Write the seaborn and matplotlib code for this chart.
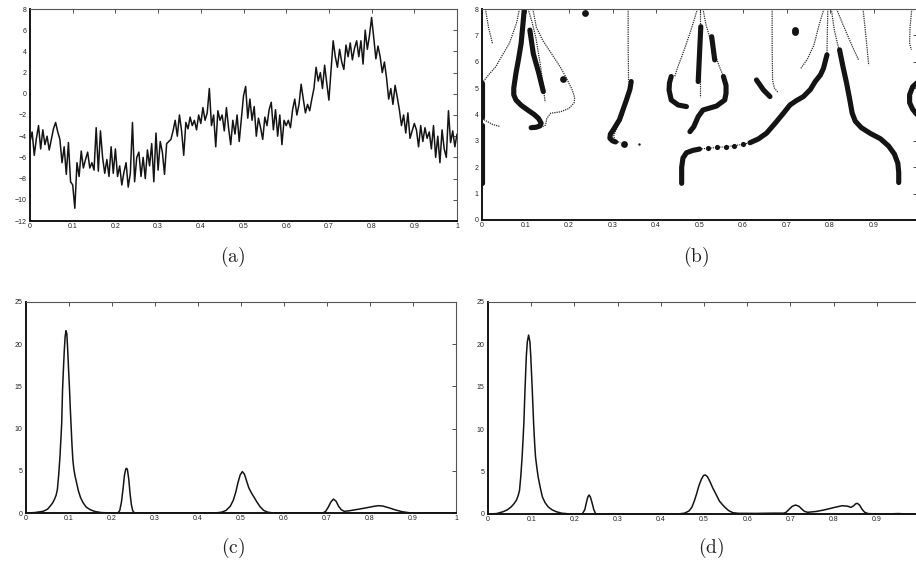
import numpy as np
import matplotlib
matplotlib.use("Agg")
import matplotlib.pyplot as plt
import seaborn as sns

# ---------------- (a) noisy signal, sampled every 0.005 ----------------
signal_y = [
    -4.5, -3.6, -5.8, -4.2, -3.0, -5.2, -3.4, -4.8, -4.0, -5.3,
    -4.3, -3.3, -2.7, -3.6, -4.3, -6.5, -5.0, -7.6, -4.6, -8.3,
    -8.6, -10.8, -6.5, -7.8, -5.4, -7.0, -6.2, -5.5, -7.0, -6.5,
    -7.2, -3.2, -7.3, -3.5, -6.0, -7.5, -6.2, -7.8, -5.0, -7.5,
    -5.2, -7.8, -6.8, -8.6, -7.4, -6.5, -8.8, -7.5, -2.7, -8.3,
    -6.0, -5.5, -7.8, -6.0, -8.0, -5.3, -6.8, -4.7, -8.3, -3.7,
    -7.2, -4.5, -5.5, -7.6, -4.7, -4.5, -4.3, -3.5, -2.5, -4.0,
    -2.0, -3.5, -5.8, -2.7, -3.3, -2.2, -3.0, -2.5, -3.4, -2.0,
    -2.8, -1.3, -2.5, -1.8, 0.5, -3.0, -2.0, -5.0, -1.6, -2.5,
    -2.0, -3.5, -1.3, -3.2, -4.8, -2.5, -3.8, -2.0, -4.5, -2.3,
    -0.2, 0.7, -2.3, -0.5, -2.5, -1.2, -4.0, -2.3, -3.2, -4.3,
    -2.2, -3.0, -1.5, -0.8, -3.4, -1.5, -4.0, -2.0, -4.8, -2.5,
    -3.0, -2.5, -3.2, -1.5, -0.5, -2.0, -1.0, 0.9, -0.5, -1.8,
    -1.0, -1.6, -0.5, 0.5, 2.5, 1.2, 2.0, 0.5, 2.7, 1.0,
    -0.6, 2.2, 5.0, 3.5, 2.5, 4.2, 3.0, 2.3, 4.6, 3.5,
    4.8, 3.2, 4.3, 5.0, 3.5, 5.0, 2.8, 6.0, 4.2, 5.5,
    7.2, 5.3, 3.3, 4.5, 3.5, 2.0, 3.0, 1.5, -0.5, 0.5,
    -1.0, 0.8, -0.3, -1.5, -3.0, -2.0, -3.7, -1.8, -4.2, -3.5,
    -2.8, -3.4, -5.0, -3.0, -4.5, -3.2, -4.2, -3.6, -5.2, -3.0,
    -6.0, -4.0, -6.5, -3.4, -5.2, -6.0, -1.6, -4.6, -3.5, -5.0,
    -3.8,
]
signal_x = np.linspace(0.0, 1.0, len(signal_y))

# ---------------- (b) modulus-maxima ridges ----------------
# strong ridges (x positions, scale values)
ridge_edge_low = ([0.0, 0.0], [1.4, 3.6])
ridge_edge_up = ([0.0, 0.0], [3.9, 5.2])
ridge_01_main = ([0.097, 0.094, 0.090, 0.084, 0.078, 0.073, 0.073, 0.078, 0.090,
                  0.105, 0.120, 0.130, 0.136, 0.133, 0.125, 0.113],
                 [7.96, 7.4, 6.7, 6.1, 5.56, 5.0, 4.75, 4.55, 4.35,
                  4.17, 4.0, 3.85, 3.67, 3.57, 3.52, 3.5])
ridge_01_side = ([0.110, 0.118, 0.130, 0.141], [7.2, 6.3, 5.6, 4.87])
ridge_03 = ([0.343, 0.340, 0.332, 0.316, 0.303, 0.295, 0.294, 0.300, 0.307],
            [5.25, 4.95, 4.55, 3.8, 3.45, 3.25, 3.1, 3.0, 2.96])
ridge_05_left = ([0.435, 0.431, 0.430, 0.435, 0.451, 0.470],
                 [5.44, 5.2, 4.93, 4.55, 4.36, 4.3])
ridge_05_mid = ([0.503, 0.497], [7.33, 5.25])
ridge_05_r1 = ([0.528, 0.535], [6.95, 6.07])
ridge_05_right = ([0.555, 0.561, 0.561, 0.558, 0.539, 0.508, 0.497, 0.487, 0.478],
                  [5.44, 5.1, 4.8, 4.55, 4.32, 4.17, 3.92, 3.54, 3.35])
ridge_065 = ([0.631, 0.647, 0.662], [5.31, 4.93, 4.68])
ridge_big_left = ([0.459, 0.459, 0.462, 0.470, 0.485, 0.500],
                  [1.39, 2.0, 2.35, 2.55, 2.64, 2.69])
ridge_big_right = ([0.616, 0.635, 0.654, 0.673, 0.693, 0.708, 0.722, 0.739,
                    0.755, 0.766, 0.778, 0.785, 0.793],
                   [2.93, 3.07, 3.29, 3.65, 4.05, 4.36, 4.52, 4.68,
                    4.95, 5.25, 5.5, 5.75, 6.26])
ridge_08_right = ([0.822, 0.830, 0.838, 0.845, 0.851, 0.858, 0.872, 0.893,
                   0.916, 0.935, 0.948, 0.956, 0.958, 0.958],
                  [6.45, 5.8, 5.2, 4.6, 4.05, 3.75, 3.5, 3.28,
                   3.08, 2.8, 2.5, 2.15, 1.8, 1.42])
ridge_edge_right = ([1.0, 0.990, 0.983, 0.983, 0.990, 1.0],
                    [5.2, 5.05, 4.75, 4.45, 4.2, 4.0])
strong_ridges = [ridge_edge_low, ridge_edge_up, ridge_01_main, ridge_01_side,
                 ridge_03, ridge_05_left, ridge_05_mid, ridge_05_r1,
                 ridge_05_right, ridge_065, ridge_big_left, ridge_big_right,
                 ridge_08_right, ridge_edge_right]

# sparse maxima linking the long ridge
sparse_x = [0.52, 0.54, 0.56, 0.58, 0.60]
sparse_y = [2.72, 2.75, 2.78, 2.82, 2.87]

# isolated maxima
blob_x = [0.187, 0.237, 0.720, 0.720, 0.327]
blob_y = [5.35, 7.86, 7.22, 7.12, 2.9]
speck_x = [0.360]
speck_y = [2.9]

# weak ridges
weak_1 = ([0.008, 0.015, 0.024], [8.0, 7.3, 6.7])
weak_2 = ([0.086, 0.080, 0.063, 0.045, 0.032, 0.015, 0.003],
          [8.0, 7.5, 6.7, 6.2, 5.82, 5.5, 5.25])
weak_3 = ([0.0, 0.010, 0.025, 0.040], [3.85, 3.75, 3.62, 3.55])
weak_4 = ([0.117, 0.125, 0.140, 0.160, 0.180, 0.195, 0.207, 0.213, 0.212,
           0.200, 0.180, 0.158, 0.149, 0.146, 0.135, 0.118],
          [8.0, 7.3, 6.8, 6.3, 5.8, 5.35, 4.95, 4.65, 4.45,
           4.23, 4.1, 4.05, 3.85, 3.6, 3.5, 3.43])
weak_5 = ([0.106, 0.115, 0.124, 0.133, 0.140, 0.145],
          [8.0, 7.5, 6.9, 6.0, 5.2, 4.47])
weak_6 = ([0.336, 0.336, 0.337], [8.0, 6.5, 5.25])
weak_7 = ([0.325, 0.310, 0.303, 0.306, 0.318], [4.0, 3.5, 3.2, 3.0, 2.93])
weak_8 = ([0.495, 0.488, 0.478, 0.468, 0.459, 0.450, 0.443],
          [8.0, 7.6, 7.08, 6.6, 6.19, 5.8, 5.44])
weak_9 = ([0.502, 0.502], [8.0, 4.68])
weak_10 = ([0.508, 0.515, 0.524, 0.535, 0.545, 0.555],
           [8.0, 7.4, 6.9, 6.3, 5.85, 5.44])
weak_11 = ([0.667, 0.667, 0.668, 0.672, 0.680], [8.0, 6.5, 5.3, 5.0, 4.85])
weak_12 = ([0.786, 0.775, 0.763, 0.748, 0.733], [8.0, 7.4, 6.63, 6.1, 5.75])
weak_13 = ([0.795, 0.794, 0.793], [8.0, 7.2, 6.3])
weak_14 = ([0.803, 0.810, 0.820], [8.0, 7.2, 6.5])
weak_15 = ([0.815, 0.830, 0.843, 0.855, 0.866], [8.0, 7.4, 6.9, 6.45, 6.06])
weak_16 = ([0.876, 0.883, 0.889], [8.0, 6.9, 5.87])
weak_17 = ([0.988, 0.984, 0.983, 0.987], [8.0, 7.3, 6.7, 6.45])
weak_ridges = [weak_1, weak_2, weak_3, weak_4, weak_5, weak_6, weak_7, weak_8,
               weak_9, weak_10, weak_11, weak_12, weak_13, weak_14, weak_15,
               weak_16, weak_17]

# ---------------- (c) first estimate ----------------
est_c_x = [0.0, 0.02, 0.04, 0.05, 0.056, 0.062, 0.066, 0.070, 0.073, 0.076,
           0.079, 0.081, 0.083, 0.085, 0.087, 0.089, 0.091, 0.093, 0.095, 0.097,
           0.099, 0.101, 0.103, 0.105, 0.107, 0.109, 0.111, 0.114, 0.118, 0.122,
           0.127, 0.133, 0.140, 0.149, 0.160, 0.175, 0.200, 0.214,
           0.218, 0.222, 0.226, 0.229, 0.232, 0.234, 0.236, 0.239, 0.242, 0.245,
           0.248, 0.252, 0.440,
           0.455, 0.465, 0.475, 0.482, 0.488, 0.493, 0.498, 0.503, 0.508, 0.513,
           0.518, 0.524, 0.530, 0.537, 0.545, 0.553, 0.562, 0.575, 0.690,
           0.697, 0.703, 0.709, 0.715, 0.721, 0.727, 0.733, 0.740, 0.750, 0.770,
           0.790, 0.810, 0.820, 0.830, 0.845, 0.860, 0.875, 0.890, 0.900, 1.0]
est_c_y = [0.0, 0.05, 0.2, 0.45, 0.8, 1.2, 1.6, 2.1, 2.8, 4.5,
           6.7, 8.6, 10.6, 14.6, 17.0, 19.2, 20.9, 21.6, 21.2, 19.3,
           17.0, 14.9, 12.4, 10.2, 8.0, 6.3, 5.3, 4.4, 3.5, 2.6,
           1.8, 1.2, 0.7, 0.4, 0.18, 0.05, 0.0, 0.0,
           0.3, 1.3, 3.0, 4.5, 5.2, 5.3, 5.1, 4.0, 2.3, 1.0,
           0.3, 0.0, 0.0,
           0.1, 0.3, 0.8, 1.5, 2.5, 3.6, 4.5, 4.9, 4.6, 3.8,
           3.0, 2.4, 1.9, 1.3, 0.7, 0.3, 0.1, 0.0, 0.0,
           0.2, 0.7, 1.3, 1.65, 1.4, 0.8, 0.4, 0.2, 0.25, 0.42,
           0.6, 0.8, 0.87, 0.82, 0.6, 0.35, 0.15, 0.04, 0.0, 0.0]

# ---------------- (d) second estimate ----------------
est_d_x = [0.0, 0.02, 0.035, 0.045, 0.054, 0.060, 0.066, 0.070, 0.073, 0.076,
           0.079, 0.081, 0.083, 0.0856, 0.0887, 0.091, 0.094, 0.097, 0.099, 0.1025,
           0.1056, 0.108, 0.110, 0.113, 0.116, 0.121, 0.126, 0.132, 0.139, 0.148,
           0.158, 0.170, 0.185, 0.200, 0.218,
           0.224, 0.228, 0.231, 0.234, 0.237, 0.241, 0.245, 0.249, 0.253, 0.440,
           0.455, 0.465, 0.472, 0.478, 0.483, 0.488, 0.494, 0.499, 0.503, 0.508,
           0.514, 0.520, 0.528, 0.536, 0.547, 0.557, 0.567, 0.580, 0.620, 0.660,
           0.685, 0.690, 0.697, 0.704, 0.712, 0.720, 0.727, 0.733, 0.740, 0.760,
           0.780, 0.800, 0.820, 0.833, 0.840, 0.846, 0.851, 0.855, 0.860, 0.866,
           0.872, 0.880, 0.900, 0.930, 0.950, 0.970, 1.0]
est_d_y = [0.0, 0.05, 0.27, 0.5, 0.86, 1.2, 1.65, 2.2, 2.8, 4.5,
           6.75, 8.7, 10.7, 14.6, 18.6, 20.3, 21.1, 20.3, 18.6, 14.6,
           10.7, 8.3, 6.75, 5.5, 4.4, 3.1, 2.0, 1.35, 0.86, 0.5,
           0.27, 0.1, 0.03, 0.0, 0.0,
           0.5, 1.4, 2.0, 2.24, 2.0, 1.3, 0.5, 0.05, 0.0, 0.0,
           0.1, 0.35, 0.8, 1.6, 2.4, 3.3, 4.1, 4.55, 4.6, 4.4,
           3.8, 3.1, 2.3, 1.5, 0.86, 0.4, 0.15, 0.08, 0.07, 0.1,
           0.1, 0.2, 0.55, 0.9, 1.06, 0.9, 0.55, 0.3, 0.2, 0.3,
           0.5, 0.75, 0.98, 0.92, 0.78, 0.95, 1.2, 1.26, 1.05, 0.55,
           0.2, 0.05, 0.0, 0.02, 0.05, 0.0, 0.0]

x_ticks = [0.0, 0.1, 0.2, 0.3, 0.4, 0.5, 0.6, 0.7, 0.8, 0.9, 1.0]
x_tick_labels = ["0", "0.1", "0.2", "0.3", "0.4", "0.5", "0.6", "0.7", "0.8", "0.9", "1"]
a_y_ticks = [-12, -10, -8, -6, -4, -2, 0, 2, 4, 6, 8]
b_y_ticks = [0, 1, 2, 3, 4, 5, 6, 7, 8]
cd_y_ticks = [0, 5, 10, 15, 20, 25]
panel_labels = ["(a)", "(b)", "(c)", "(d)"]

# ---------------- styling ----------------
sns.set_theme(style="white")
plt.rcParams["font.family"] = ["Liberation Sans", "DejaVu Sans"]
plt.rcParams["mathtext.fontset"] = "cm"

INK = "#141414"

fig = plt.figure(figsize=(9.16, 5.65), dpi=100)
W, H = 916.0, 565.0


def make_axes(left, top, right, bottom):
    return fig.add_axes([left / W, 1 - bottom / H, (right - left) / W, (bottom - top) / H])


ax_a = make_axes(30, 9, 457, 221)
ax_b = make_axes(482, 9, 917, 220)
ax_c = make_axes(26, 302, 456, 513)
ax_d = make_axes(488, 302, 920, 514)


def style_axes(ax, yticks, ylim, last_x_label=True):
    ax.set_xlim(0, 1)
    ax.set_ylim(*ylim)
    ax.set_xticks(x_ticks)
    labels = list(x_tick_labels)
    if not last_x_label:
        # the panel runs up to the figure edge, where the last label would be cut
        labels[-1] = ""
    ax.set_xticklabels(labels)
    ax.set_yticks(yticks)
    ax.set_yticklabels([f"{t:g}".replace("-", "\u2212") for t in yticks])
    ax.tick_params(direction="in", length=3, width=0.6, colors="#333333",
                   labelsize=5, top=True, right=True, pad=1.5,
                   labelcolor="#222222")
    ax.tick_params(axis="y", pad=2.5)
    for side in ("left", "bottom"):
        ax.spines[side].set_linewidth(1.4)
        ax.spines[side].set_color(INK)
    for side in ("top", "right"):
        ax.spines[side].set_linewidth(0.8)
        ax.spines[side].set_color("#555555")
        ax.spines[side].set_visible(True)
    ax.set_xlabel("")
    ax.set_ylabel("")
    ax.grid(False)


# (a)
sns.lineplot(x=signal_x, y=signal_y, ax=ax_a, color=INK, linewidth=1.1,
             estimator=None, sort=False)
style_axes(ax_a, a_y_ticks, (-12, 8))

# (b)
for rx, ry in weak_ridges:
    sns.lineplot(x=rx, y=ry, ax=ax_b, color="#2a2a2a", linewidth=0.9,
                 linestyle=(0, (1.0, 0.8)), estimator=None, sort=False)
for rx, ry in strong_ridges:
    sns.lineplot(x=rx, y=ry, ax=ax_b, color=INK, linewidth=3.7,
                 solid_capstyle="round", solid_joinstyle="round",
                 estimator=None, sort=False)
sns.lineplot(x=[0.50] + sparse_x + [0.616], y=[2.69] + sparse_y + [2.93], ax=ax_b,
             color=INK, linewidth=0.8, linestyle=(0, (1.0, 1.0)),
             estimator=None, sort=False)
sns.scatterplot(x=sparse_x, y=sparse_y, ax=ax_b, color=INK, s=14,
                marker="o", linewidth=0)
sns.scatterplot(x=blob_x, y=blob_y, ax=ax_b, color=INK, s=24,
                marker="o", linewidth=0)
sns.scatterplot(x=speck_x, y=speck_y, ax=ax_b, color=INK, s=3,
                marker="o", linewidth=0)
style_axes(ax_b, b_y_ticks, (0, 8), last_x_label=False)

# (c)
sns.lineplot(x=est_c_x, y=est_c_y, ax=ax_c, color=INK, linewidth=1.1,
             estimator=None, sort=False)
style_axes(ax_c, cd_y_ticks, (0, 25))

# (d)
sns.lineplot(x=est_d_x, y=est_d_y, ax=ax_d, color=INK, linewidth=1.1,
             estimator=None, sort=False)
style_axes(ax_d, cd_y_ticks, (0, 25), last_x_label=False)

# panel captions
caption_pos = [(233, 257), (696, 257), (233, 548), (711, 548)]
for text, (px, py) in zip(panel_labels, caption_pos):
    fig.text(px / W, 1 - py / H, r"$\mathrm{" + text + "}$", fontsize=14,
             ha="center", va="center", color="#222222")

fig.savefig("out.png", dpi=100)
